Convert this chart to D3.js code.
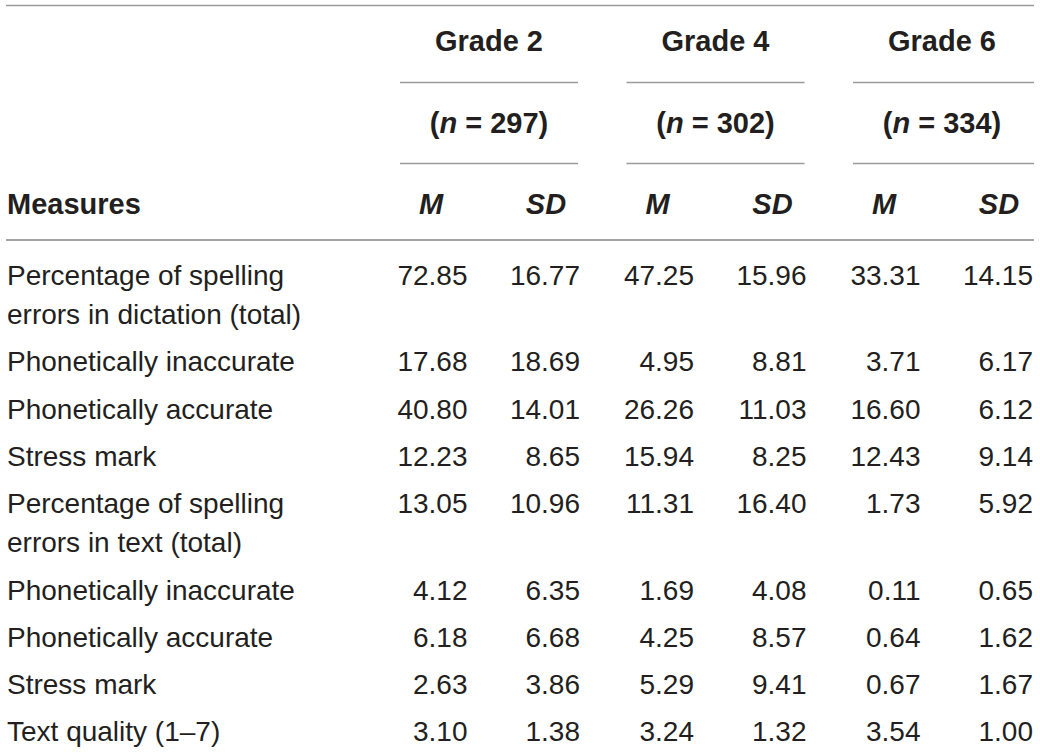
<!DOCTYPE html>
<html>
<head>
<meta charset="utf-8">
<script src="https://cdn.jsdelivr.net/npm/d3@7/dist/d3.min.js"></script>
<style>
  html, body { margin: 0; padding: 0; background: #fff; }
  svg { display: block; }
  text { font-family: "Liberation Sans", Arial, Helvetica, sans-serif; fill: #231f20; }
</style>
</head>
<body>
<svg id="chart" width="1040" height="754"></svg>
<script>
// ---- Data ----
const grades = ["Grade 2", "Grade 4", "Grade 6"];
const sampleSizes = [297, 302, 334];
const statLabels = ["M", "SD"];
const measures = [
  ["Percentage of spelling", "errors in dictation (total)"],
  ["Phonetically inaccurate"],
  ["Phonetically accurate"],
  ["Stress mark"],
  ["Percentage of spelling", "errors in text (total)"],
  ["Phonetically inaccurate"],
  ["Phonetically accurate"],
  ["Stress mark"],
  ["Text quality (1\u20137)"]
];
const meanGrade2 = [72.85, 17.68, 40.80, 12.23, 13.05, 4.12, 6.18, 2.63, 3.10];
const sdGrade2   = [16.77, 18.69, 14.01, 8.65, 10.96, 6.35, 6.68, 3.86, 1.38];
const meanGrade4 = [47.25, 4.95, 26.26, 15.94, 11.31, 1.69, 4.25, 5.29, 3.24];
const sdGrade4   = [15.96, 8.81, 11.03, 8.25, 16.40, 4.08, 8.57, 9.41, 1.32];
const meanGrade6 = [33.31, 3.71, 16.60, 12.43, 1.73, 0.11, 0.64, 0.67, 3.54];
const sdGrade6   = [14.15, 6.17, 6.12, 9.14, 5.92, 0.65, 1.62, 1.67, 1.00];

const meansByGrade = [meanGrade2, meanGrade4, meanGrade6];
const sdsByGrade = [sdGrade2, sdGrade4, sdGrade6];

// ---- Layout ----
const svg = d3.select("#chart");
const lineColor = "#9b9b9b";
const bodySize = 28;
const boldSize = 29;
const fmt = d3.format(".2f");

const x = d3.scaleBand().domain(grades).range([400, 1031]).paddingInner(0.2141).paddingOuter(0);

// row positions in "row units": each extra wrapped line adds a fraction of a row
const rowStep = 47.3, wrapStep = 39;
let acc = 0;
const rowUnits = measures.map((m) => { const u = acc; acc += 1 + (m.length - 1) * wrapStep / rowStep; return u; });
const y = d3.scaleLinear().domain([0, 1]).range([285, 285 + rowStep]);

// top rule
svg.append("line").attr("x1", 6).attr("x2", 1034).attr("y1", 5.5).attr("y2", 5.5)
  .attr("stroke", lineColor).attr("stroke-width", 1.4);

// grade headers
const gh = svg.append("g");
grades.forEach((g, i) => {
  const bx = x(g), bw = x.bandwidth();
  gh.append("text").attr("x", bx + bw / 2).attr("y", 51).attr("text-anchor", "middle")
    .attr("font-size", boldSize).attr("font-weight", "bold").text(g);
  gh.append("line").attr("x1", bx).attr("x2", bx + bw + (i === 2 ? 3 : 0)).attr("y1", 82.5).attr("y2", 82.5)
    .attr("stroke", lineColor).attr("stroke-width", 1.4);
  const t = gh.append("text").attr("x", bx + bw / 2).attr("y", 133).attr("text-anchor", "middle")
    .attr("font-size", boldSize).attr("font-weight", "bold");
  t.append("tspan").text("(");
  t.append("tspan").attr("font-style", "italic").text("n");
  t.append("tspan").text(" = " + sampleSizes[i] + ")");
  gh.append("line").attr("x1", bx).attr("x2", bx + bw + (i === 2 ? 3 : 0)).attr("y1", 163.5).attr("y2", 163.5)
    .attr("stroke", lineColor).attr("stroke-width", 1.4);
  // stat labels
  gh.append("text").attr("x", bx + 31).attr("y", 214).attr("text-anchor", "middle")
    .attr("font-size", boldSize).attr("font-weight", "bold").attr("font-style", "italic").text(statLabels[0]);
  gh.append("text").attr("x", bx + 146).attr("y", 214).attr("text-anchor", "middle")
    .attr("font-size", boldSize).attr("font-weight", "bold").attr("font-style", "italic").text(statLabels[1]);
});

svg.append("text").attr("x", 7).attr("y", 214).attr("font-size", boldSize).attr("font-weight", "bold").text("Measures");

// header bottom rule
svg.append("line").attr("x1", 6).attr("x2", 1034).attr("y1", 240).attr("y2", 240)
  .attr("stroke", "#a3a3a3").attr("stroke-width", 2.2);

// body rows
const rows = svg.append("g").selectAll("g").data(measures).join("g")
  .attr("transform", (d, i) => `translate(0,${y(rowUnits[i])})`);

rows.each(function (d, i) {
  const g = d3.select(this);
  const t = g.append("text").attr("x", 7).attr("y", 0).attr("font-size", bodySize);
  d.forEach((line, j) => t.append("tspan").attr("x", 7).attr("dy", j === 0 ? 0 : wrapStep).text(line));
  grades.forEach((gr, k) => {
    const bx = x(gr);
    g.append("text").attr("x", bx + 67.5).attr("y", 0).attr("text-anchor", "end")
      .attr("font-size", bodySize).text(fmt(meansByGrade[k][i]));
    g.append("text").attr("x", bx + 180).attr("y", 0).attr("text-anchor", "end")
      .attr("font-size", bodySize).text(fmt(sdsByGrade[k][i]));
  });
});
</script>
</body>
</html>
